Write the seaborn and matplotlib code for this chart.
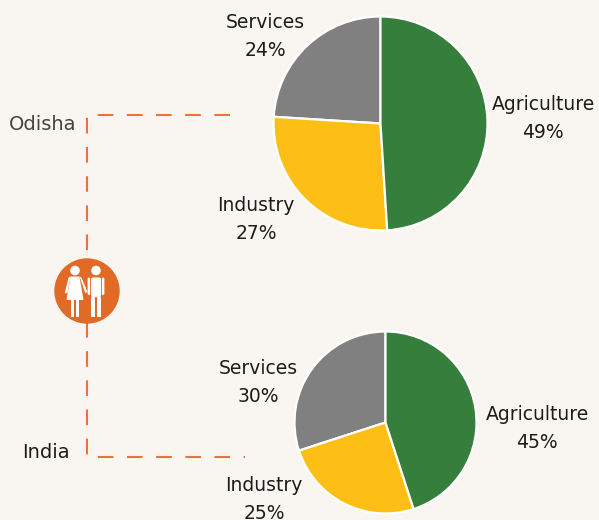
import matplotlib
matplotlib.use('Agg')
import matplotlib.pyplot as plt
import seaborn as sns
from matplotlib.patches import Circle, Polygon, Rectangle, FancyBboxPatch
from matplotlib.lines import Line2D

# ---------------- data ----------------
sectors = ['Services', 'Industry', 'Agriculture']
odisha_share = [24, 27, 49]
india_share = [30, 25, 45]
region_names = ['Odisha', 'India']
sector_colors = ['#808080', '#FDBF16', '#357E3C']

# ---------------- style ----------------
sns.set_theme(style='white')
plt.rcParams['font.family'] = ['DejaVu Sans']
BG = '#F9F6F1'
ORANGE = '#E8743B'
TXT = '#1c1c1c'
W, H = 599, 520

fig = plt.figure(figsize=(W / 100, H / 100), dpi=100, facecolor=BG)
ax = fig.add_axes([0, 0, 1, 1])
ax.set_facecolor(BG)


def Y(y):
    return H - y


palette = sns.color_palette(sector_colors)

# pies: (values, centre in px, radius px, label anchors [(x, baseline)] per sector)
pies = [
    (odisha_share, (380.5, 123.5), 107,
     [(265, 28), (256, 211), (543, 110)]),
    (india_share, (385.5, 422.5), 91,
     [(258, 374), (264, 491), (537, 420)]),
]

for vals, (cx, cy), r, anchors in pies:
    ax.pie(vals, colors=palette, startangle=90, counterclock=True,
           center=(cx, Y(cy)), radius=r,
           wedgeprops=dict(edgecolor='white', linewidth=1.6))
    for name, v, (lx, ly) in zip(sectors, vals, anchors):
        ax.text(lx, Y(ly), name, ha='center', va='baseline',
                fontsize=13.5, color=TXT)
        ax.text(lx, Y(ly + 28), f'{v}%', ha='center', va='baseline',
                fontsize=13.5, color=TXT)

# dashed connector
lw = 1.5
conn = Line2D([230, 87, 87, 245], [Y(115), Y(115), Y(457), Y(457)],
              color=ORANGE, lw=lw, dashes=(7.5, 6.5), zorder=1)
ax.add_line(conn)

# region labels
ax.text(43, Y(130), region_names[0], ha='center', va='baseline',
        fontsize=14, color='#444444')
ax.text(46, Y(458), region_names[1], ha='center', va='baseline',
        fontsize=14, color=TXT)

# icon
icx, icy, ir = 87, 291, 32
ax.add_patch(Circle((icx, Y(icy)), ir, color='#E06A26', zorder=3))
white = dict(color='white', zorder=4, lw=0)
# woman
ax.add_patch(Circle((75, Y(270.5)), 4.8, **white))
ax.add_patch(Polygon([(70.5, Y(276.5)), (79.5, Y(276.5)), (83.5, Y(300)), (66.5, Y(300))], **white))
ax.add_patch(Polygon([(70.5, Y(276.5)), (68.5, Y(277.5)), (64.8, Y(293)), (67.3, Y(293.5))], **white))
ax.add_patch(Polygon([(79.5, Y(276.5)), (81.5, Y(277.5)), (87.5, Y(292)), (85.3, Y(293))], **white))
ax.add_patch(Rectangle((71.0, Y(316.5)), 3.1, 17, **white))
ax.add_patch(Rectangle((76.0, Y(316.5)), 3.1, 17, **white))
# man
ax.add_patch(Circle((96, Y(270.5)), 4.8, **white))
ax.add_patch(FancyBboxPatch((91.0, Y(297)), 10, 19.5,
                            boxstyle='round,pad=0,rounding_size=1.5', **white))
ax.add_patch(FancyBboxPatch((87.6, Y(295)), 2.5, 17.5,
                            boxstyle='round,pad=0,rounding_size=1.2', **white))
ax.add_patch(FancyBboxPatch((101.9, Y(295)), 2.5, 17.5,
                            boxstyle='round,pad=0,rounding_size=1.2', **white))
ax.add_patch(Rectangle((91.0, Y(316.5)), 4.3, 20, **white))
ax.add_patch(Rectangle((96.7, Y(316.5)), 4.3, 20, **white))

ax.set_xlim(0, W)
ax.set_ylim(0, H)
ax.set_aspect('equal')
ax.axis('off')

fig.savefig('out.png', dpi=100, facecolor=BG)
